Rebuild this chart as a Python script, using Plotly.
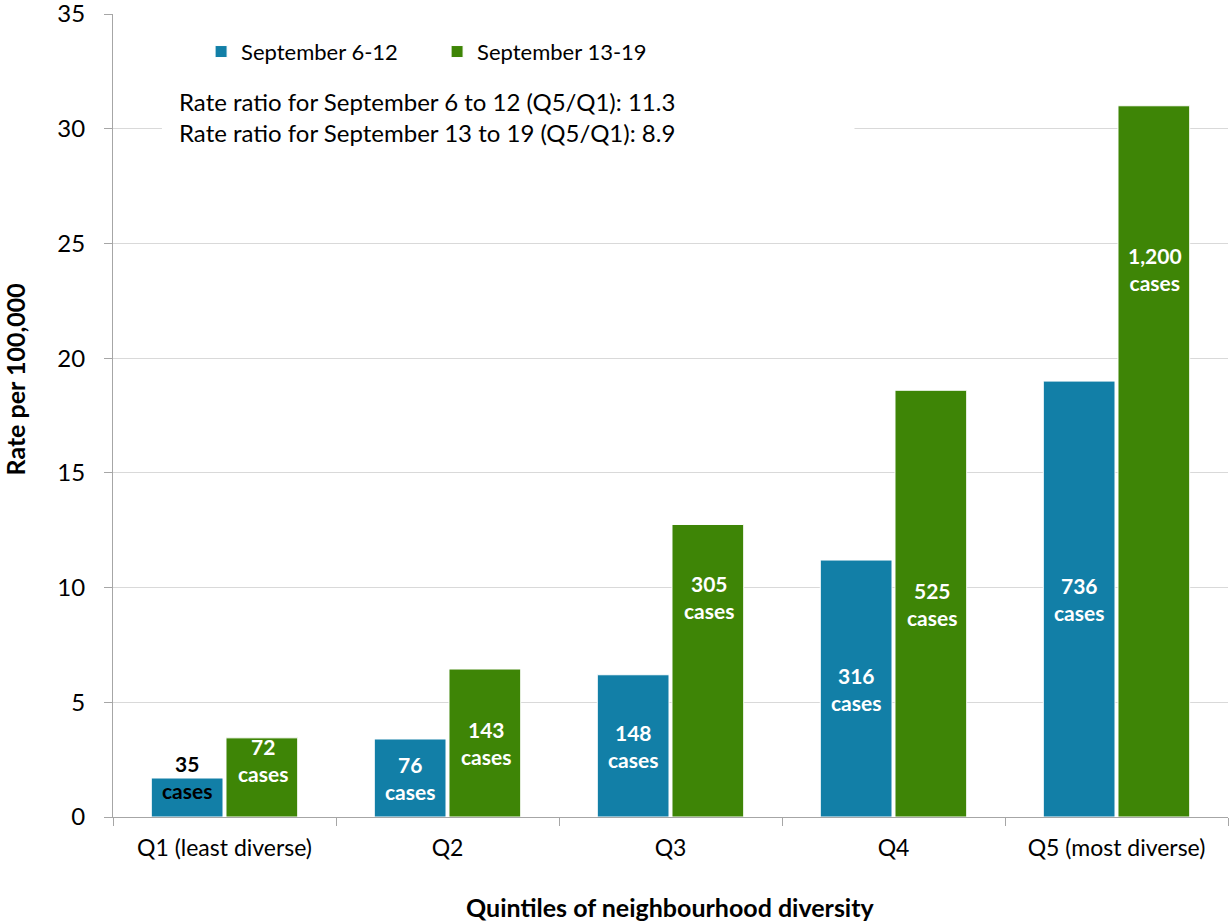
import plotly.graph_objects as go

categories = ["Q1 (least diverse)", "Q2", "Q3", "Q4", "Q5 (most diverse)"]
series_names = ["September 6-12", "September 13-19"]
rate_sep6_12 = [1.7, 3.4, 6.2, 11.2, 19.0]
rate_sep13_19 = [3.45, 6.45, 12.75, 18.6, 31.0]
cases_sep6_12 = ["35", "76", "148", "316", "736"]
cases_sep13_19 = ["72", "143", "305", "525", "1,200"]
ratio_sep6_12 = "11.3"
ratio_sep13_19 = "8.9"

BLUE = "#127FA7"
GREEN = "#3E8506"
FONT = "Lato"

fig = go.Figure()
fig.add_trace(go.Bar(x=categories, y=rate_sep6_12, name=series_names[0],
                     marker=dict(color=BLUE, line=dict(color="white", width=1))))
fig.add_trace(go.Bar(x=categories, y=rate_sep13_19, name=series_names[1],
                     marker=dict(color=GREEN, line=dict(color="white", width=1))))

# label placement (data-unit centers), default is middle of the bar
label_override_blue = {0: 1.75}
label_override_green = {0: 2.5, 2: 9.6, 4: 23.9}

for i, cat in enumerate(categories):
    yb = label_override_blue.get(i, rate_sep6_12[i] / 2)
    yg = label_override_green.get(i, rate_sep13_19[i] / 2)
    fig.add_annotation(x=cat, y=yb, xref="x", yref="y", xshift=-38,
                       text=f"<b>{cases_sep6_12[i]}<br>cases</b>", showarrow=False,
                       font=dict(family=FONT, size=21, color="black" if i == 0 else "white"))
    fig.add_annotation(x=cat, y=yg, xref="x", yref="y", xshift=38,
                       text=f"<b>{cases_sep13_19[i]}<br>cases</b>", showarrow=False,
                       font=dict(family=FONT, size=21, color="white"))

# white box behind the rate-ratio text
fig.add_shape(type="rect", xref="paper", yref="paper", x0=0.0439, x1=0.665,
              y0=0.8306, y1=0.9116, fillcolor="white", line=dict(width=0), layer="above")
fig.add_annotation(
    x=0.0575, y=0.8715, xref="paper", yref="paper", xanchor="left", yanchor="middle",
    text=(f"Rate ratio for September 6 to 12 (Q5/Q1): {ratio_sep6_12}<br>"
          f"Rate ratio for September 13 to 19 (Q5/Q1): {ratio_sep13_19}"),
    showarrow=False, align="left",
    font=dict(family=FONT, size=24, color="black"))

# axis titles
fig.add_annotation(x=0.5, y=-0.1121, xref="paper", yref="paper", xanchor="center",
                   yanchor="middle",
                   text="<b>Quintiles of neighbourhood diversity</b>", showarrow=False,
                   font=dict(family=FONT, size=25, color="black"))
fig.add_annotation(x=-0.0878, y=0.545, xref="paper", yref="paper", textangle=-90,
                   xanchor="center", yanchor="middle",
                   text="<b>Rate per 100,000</b>", showarrow=False,
                   font=dict(family=FONT, size=25, color="black"))

fig.update_layout(
    width=1229, height=922,
    margin=dict(l=113, r=1, t=14, b=105),
    paper_bgcolor="white", plot_bgcolor="white",
    barmode="group", bargap=0.33, bargroupgap=0.04,
    font=dict(family=FONT, size=20, color="black"),
    legend=dict(orientation="h", x=0.079, y=0.953, xanchor="left", yanchor="middle",
                font=dict(family=FONT, size=22), entrywidth=191, bgcolor="rgba(0,0,0,0)"),
    xaxis=dict(showline=True, linecolor="#A6A6A6", linewidth=1, automargin=False,
               ticks="outside", tickson="boundaries", ticklen=8, tickcolor="#A6A6A6",
               ticklabelstandoff=10,
               tickfont=dict(family=FONT, size=23, color="black")),
    yaxis=dict(range=[0, 35], dtick=5, showline=True, linecolor="#A6A6A6", linewidth=1,
               automargin=False, ticks="outside", ticklen=8, tickcolor="#A6A6A6",
               ticklabelstandoff=14, ticklabeloverflow="allow",
               showgrid=True, gridcolor="#D9D9D9", gridwidth=1, zeroline=False,
               tickfont=dict(family=FONT, size=24, color="black")),
)

fig.write_html("out.html", config={"displayModeBar": False},
               post_script="document.body.style.margin='0';")
